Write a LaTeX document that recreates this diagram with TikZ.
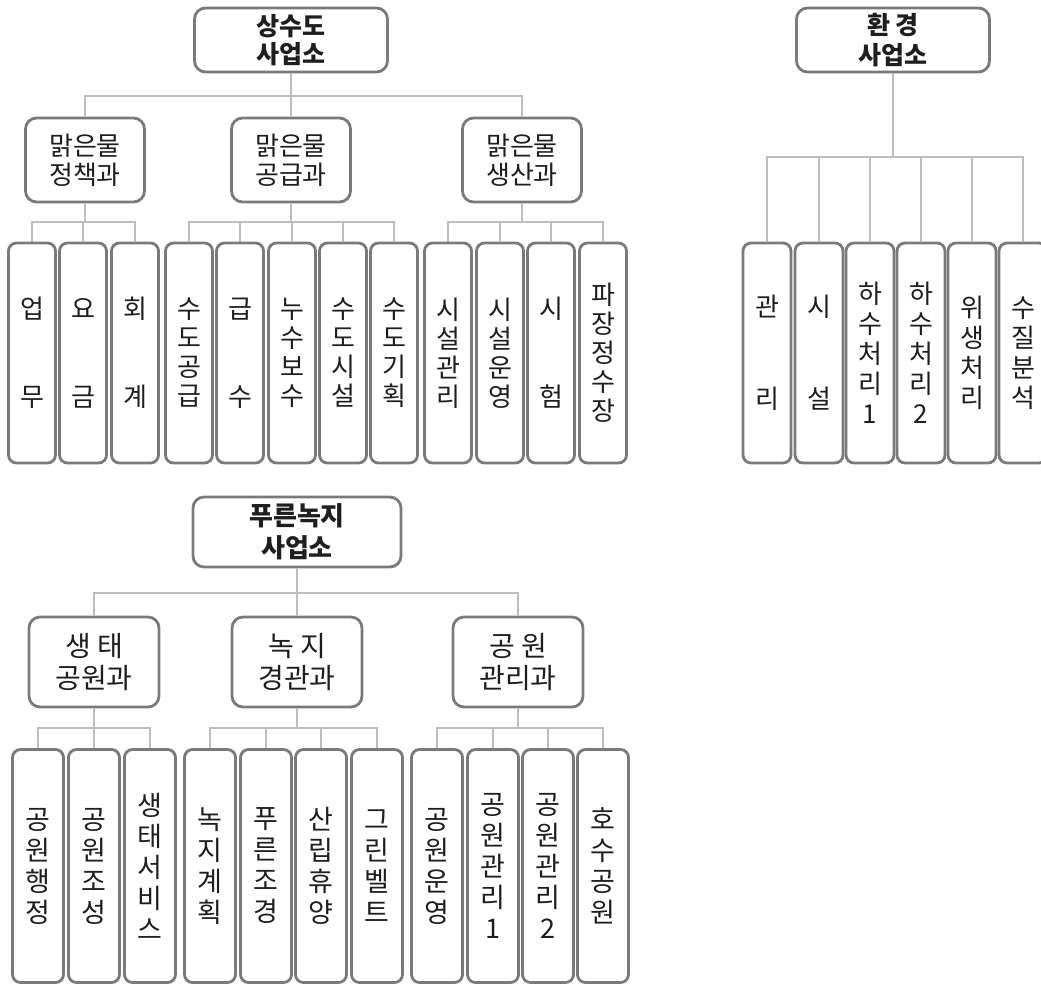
\documentclass[tikz,border=0pt]{standalone}
\usepackage{fontspec}
\newfontfamily\kr{Noto Sans CJK KR}
\definecolor{boxgray}{HTML}{7A7A7A}
\definecolor{linegray}{HTML}{BEBEBE}
\definecolor{inkgray}{HTML}{1E1E1E}

\tikzset{
  box/.style={draw=boxgray, line width=2.8pt, fill=white, text=inkgray, align=center, inner sep=0pt},
  headbox/.style={box, rounded corners=11pt, minimum width=193pt, minimum height=64pt, font=\kr\bfseries\fontsize{25}{28}\selectfont},
  deptbox/.style={box, rounded corners=11pt, minimum width=119pt, minimum height=84pt, font=\kr\fontsize{26}{29}\selectfont},
  leafbox/.style={box, rounded corners=8pt, minimum width=47pt, minimum height=220pt, font=\kr\fontsize{26}{29}\selectfont},
  link/.style={draw=linegray, line width=2pt}
}

\begin{document}
\begin{tikzpicture}[x=1pt, y=-1pt]
\useasboundingbox (0,0) rectangle (1041,985);
\clip (0,0) rectangle (1041,985);

% Water supply office
\node[headbox] (water) at (291,40) {상수도\\사업소};
\node[deptbox] (wpol) at (85,160) {맑은물\\정책과};
\node[deptbox] (wsup) at (291,160) {맑은물\\공급과};
\node[deptbox] (wpro) at (522,160) {맑은물\\생산과};
\coordinate (waterbus) at (291,96);
\draw[link] (water.south) -- (waterbus);
\foreach \n in {wpol,wsup,wpro}
  \draw[link] (waterbus) -| (\n.north);

% Water teams
\foreach \x/\n/\t in {32/wpol1/{업\\[59pt]무}, 83/wpol2/{요\\[59pt]금}, 135/wpol3/{회\\[59pt]계},
    189/wsup1/{수\\도\\공\\급}, 240/wsup2/{급\\[59pt]수}, 292/wsup3/{누\\수\\보\\수},
    343/wsup4/{수\\도\\시\\설}, 394/wsup5/{수\\도\\기\\획},
    448/wpro1/{시\\설\\관\\리}, 500/wpro2/{시\\설\\운\\영}, 551/wpro3/{시\\[59pt]험},
    603/wpro4/{파\\장\\정\\수\\장}}
  \node[leafbox] (\n) at (\x,353) {\t};
\coordinate (wpolbus) at (85,222);
\coordinate (wsupbus) at (291,222);
\coordinate (wprobus) at (522,222);
\draw[link] (wpol.south) -- (wpolbus);
\draw[link] (wsup.south) -- (wsupbus);
\draw[link] (wpro.south) -- (wprobus);
\foreach \n in {wpol1,wpol2,wpol3}
  \draw[link] (wpolbus) -| (\n.north);
\foreach \n in {wsup1,wsup2,wsup3,wsup4,wsup5}
  \draw[link] (wsupbus) -| (\n.north);
\foreach \n in {wpro1,wpro2,wpro3,wpro4}
  \draw[link] (wprobus) -| (\n.north);

% Environment office
\node[headbox, font=\kr\bfseries\fontsize{25}{30}\selectfont] (env) at (893,40) {환 경\\사업소};
\foreach \x/\n/\t in {767/env1/{관\\[62pt]리}, 819/env2/{시\\[62pt]설}, 870/env3/{하\\수\\처\\리\\1},
    921/env4/{하\\수\\처\\리\\2}, 972/env5/{위\\생\\처\\리}, 1023/env6/{수\\질\\분\\석}}
  \node[leafbox, minimum width=48pt, font=\kr\fontsize{26}{30}\selectfont] (\n) at (\x,353) {\t};
\coordinate (envbus) at (893,157);
\draw[link] (env.south) -- (envbus);
\foreach \n in {env1,env2,env3,env4,env5,env6}
  \draw[link] (envbus) -| (\n.north);

% Green office
\node[headbox, minimum width=208pt, minimum height=70pt, font=\kr\bfseries\fontsize{26}{32}\selectfont] (green) at (297,532) {푸른녹지\\사업소};
\node[deptbox, minimum width=130pt, minimum height=90pt, font=\kr\fontsize{28}{32}\selectfont] (eco) at (94,662) {생 태\\공원과};
\node[deptbox, minimum width=130pt, minimum height=90pt, font=\kr\fontsize{28}{32}\selectfont] (land) at (297,662) {녹 지\\경관과};
\node[deptbox, minimum width=130pt, minimum height=90pt, font=\kr\fontsize{28}{32}\selectfont] (park) at (518,662) {공 원\\관리과};
\coordinate (greenbus) at (297,593);
\draw[link] (green.south) -- (greenbus);
\foreach \n in {eco,land,park}
  \draw[link] (greenbus) -| (\n.north);

% Green teams
\foreach \x/\n/\t in {38/eco1/{공\\원\\행\\정}, 94/eco2/{공\\원\\조\\성}, 150/eco3/{생\\태\\서\\비\\스},
    210/land1/{녹\\지\\계\\획}, 266/land2/{푸\\른\\조\\경}, 321/land3/{산\\립\\휴\\양}, 377/land4/{그\\린\\벨\\트},
    437/park1/{공\\원\\운\\영}, 493/park2/{공\\원\\관\\리\\1}, 548/park3/{공\\원\\관\\리\\2}, 603/park4/{호\\수\\공\\원}}
  \node[leafbox, minimum width=51pt, minimum height=233pt, font=\kr\fontsize{27}{31}\selectfont] (\n) at (\x,866) {\t};
\coordinate (ecobus) at (94,728);
\coordinate (landbus) at (297,728);
\coordinate (parkbus) at (518,728);
\draw[link] (eco.south) -- (ecobus);
\draw[link] (land.south) -- (landbus);
\draw[link] (park.south) -- (parkbus);
\foreach \n in {eco1,eco2,eco3}
  \draw[link] (ecobus) -| (\n.north);
\foreach \n in {land1,land2,land3,land4}
  \draw[link] (landbus) -| (\n.north);
\foreach \n in {park1,park2,park3,park4}
  \draw[link] (parkbus) -| (\n.north);

\end{tikzpicture}
\end{document}
